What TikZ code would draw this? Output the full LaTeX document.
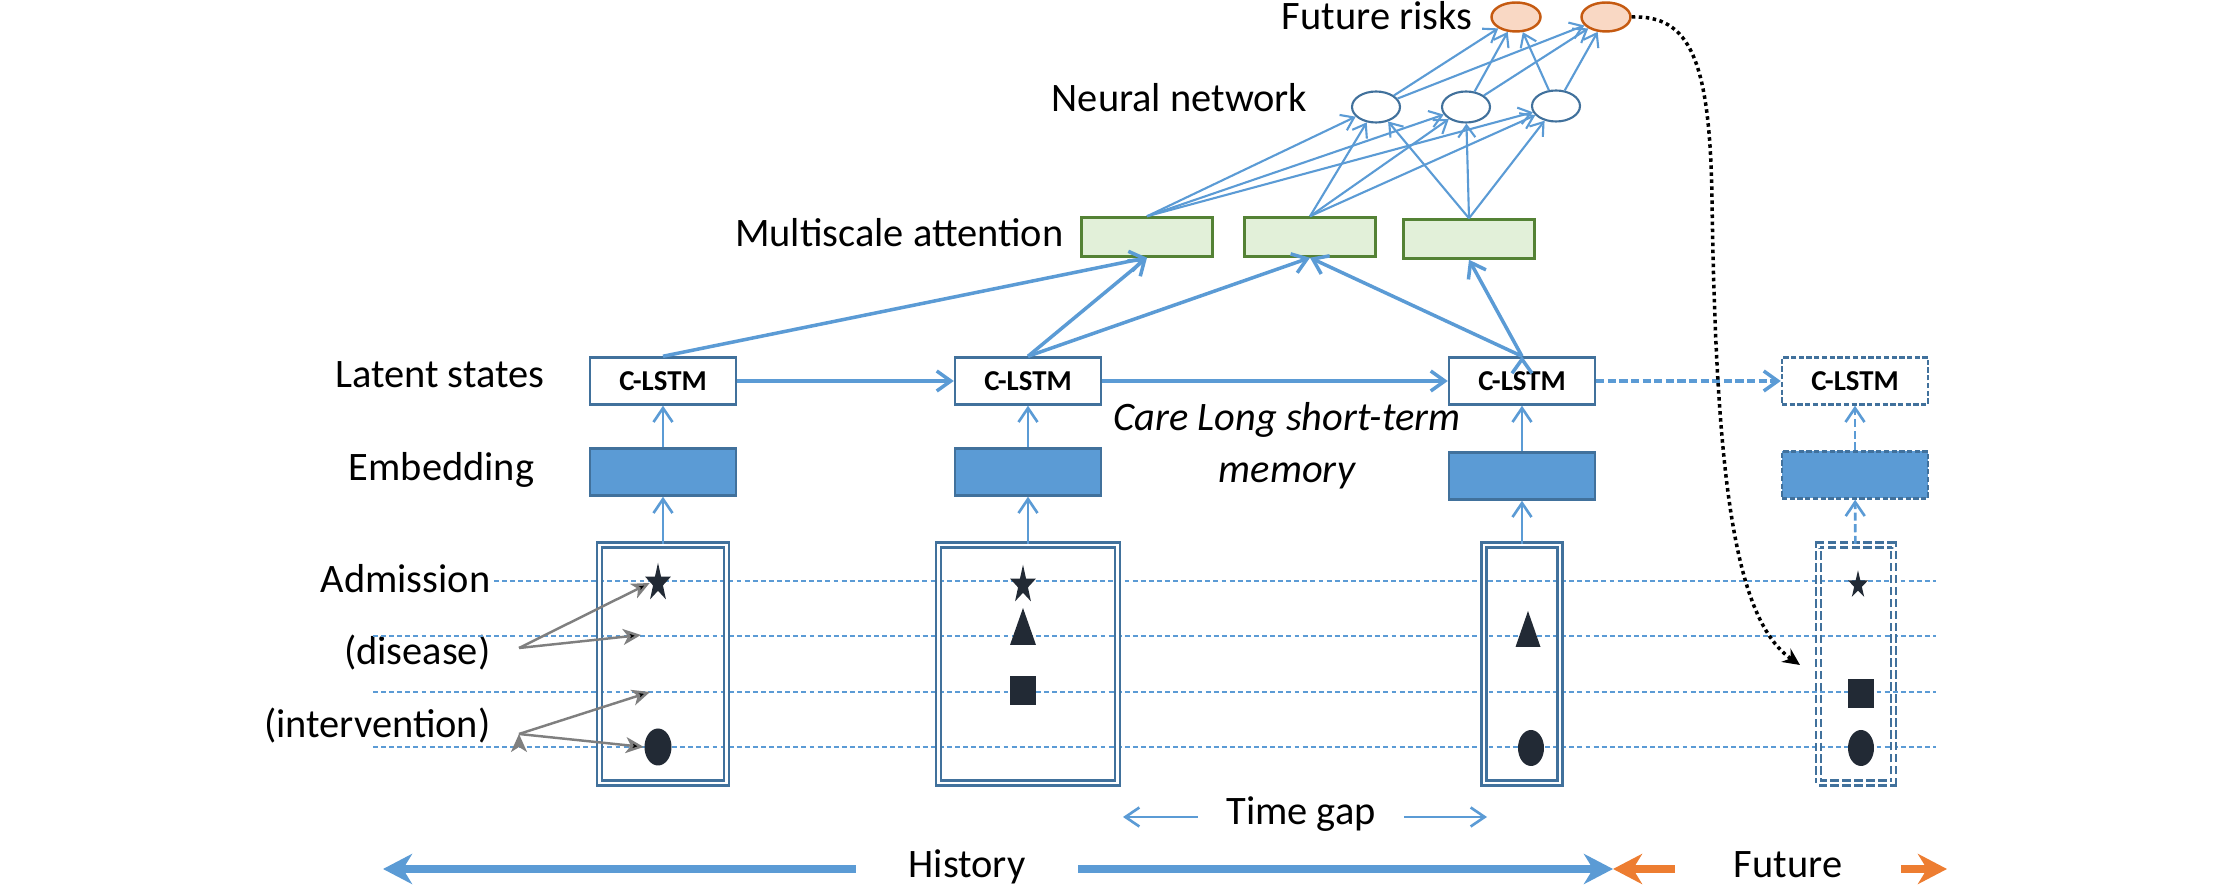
\documentclass[tikz,border=0pt]{standalone}
\usepackage{fontspec}
\setmainfont{Carlito}
\usetikzlibrary{arrows.meta,shapes.geometric}

\definecolor{lineblue}{HTML}{5B9BD5}
\definecolor{boxblue}{HTML}{41719C}
\definecolor{symcol}{HTML}{222A35}
\definecolor{attfill}{HTML}{E2F0D9}
\definecolor{attdraw}{HTML}{548235}
\definecolor{riskfill}{HTML}{F9D8C4}
\definecolor{riskdraw}{HTML}{C55A11}
\definecolor{futorange}{HTML}{ED7D31}
\definecolor{pointgray}{HTML}{7F7F7F}

\begin{document}
\begin{tikzpicture}[font=\fontsize{11.5}{14.8}\selectfont]

        % Setup the styles for the boxes and the links
        \tikzset{row label/.style={anchor=base east, inner sep=0pt},
                 lstm box/.style={draw=boxblue, fill=white, line width=0.7pt,
                                  minimum width=1.46cm, minimum height=0.47cm,
                                  inner sep=0pt, font=\bfseries\fontsize{8.2}{9}\selectfont},
                 embed box/.style={draw=boxblue, fill=lineblue, line width=0.7pt,
                                   minimum width=1.46cm, minimum height=0.47cm},
                 visit box/.style={draw=boxblue, double=white, double distance=0.8pt,
                                   line width=0.65pt, minimum height=2.38cm},
                 attn box/.style={draw=attdraw, fill=attfill, line width=0.7pt,
                                  minimum width=1.31cm, minimum height=0.39cm},
                 neuron/.style={ellipse, draw=boxblue, fill=white, line width=0.6pt,
                                minimum width=0.48cm, minimum height=0.31cm, inner sep=0pt},
                 risk/.style={ellipse, draw=riskdraw, fill=riskfill, line width=0.7pt,
                              minimum width=0.49cm, minimum height=0.29cm, inner sep=0pt},
                 code star/.style={star, star points=5, star point ratio=2.6,
                                   fill=symcol, inner sep=0pt, transform shape},
                 code dot/.style={ellipse, fill=symcol, inner sep=0pt,
                                  minimum width=0.26cm, minimum height=0.36cm},
                 code square/.style={fill=symcol, inner sep=0pt,
                                     minimum width=0.26cm, minimum height=0.29cm},
                 grid line/.style={draw=lineblue, line width=0.4pt,
                                   dash pattern=on 1.4pt off 0.9pt},
                 state link/.style={draw=lineblue, line width=1pt,
                                    -{Straight Barb[length=1.4mm,width=2mm]}},
                 up link/.style={draw=lineblue, line width=0.75pt,
                                 -{Straight Barb[length=1.4mm,width=1.9mm]}},
                 nn link/.style={draw=lineblue, line width=0.6pt,
                                 -{Straight Barb[length=1.2mm,width=1.7mm]}},
                 hint link/.style={draw=pointgray, line width=0.7pt,
                                   -{Stealth[length=1.8mm,width=1.6mm,inset=0.5mm]}},
                 span arrow/.style={line width=2pt,
                                    -{Stealth[length=2.9mm,width=3mm,inset=0.9mm]}},
                 dashed link/.style={dash pattern=on 2.3pt off 1pt},
                 future box/.style={dash pattern=on 1.5pt off 0.7pt},
                 future visit/.style={dash pattern=on 2.4pt off 1pt}}

        \useasboundingbox (0, 0) rectangle (22.13, 8.86);

        % Draw the row labels
        \node[row label] at (14.73, 8.56) (lrisk)  {Future risks};
        \node[row label] at (13.08, 7.74) (lnn)    {Neural network};
        \node[row label] at (10.64, 6.39) (latt)   {Multiscale attention};
        \node[row label] at (5.45, 4.98)  (lstate) {Latent states};
        \node[row label] at (5.35, 4.05)  (lemb)   {Embedding};
        \node[row label] at (4.91, 2.93)  (ladm)   {Admission};
        \node[row label] at (4.91, 2.21)  (ldis)   {(disease)};
        \node[row label] at (4.91, 1.48)  (lint)   {(intervention)};

        % Draw the dotted rows
        \draw[grid line] (4.94, 3.05) -- (19.36, 3.05);
        \foreach \y in {2.50, 1.94, 1.39}
            \draw[grid line] (3.73, \y) -- (19.36, \y);

        % Draw the visits
        \node[visit box, minimum width=1.27cm] at (6.63, 2.22)  (v1) {};
        \node[visit box, minimum width=1.79cm] at (10.28, 2.22) (v2) {};
        \node[visit box, minimum width=0.76cm] at (15.22, 2.22) (v3) {};
        \node[visit box, future visit, minimum width=0.75cm] at (18.56, 2.22) (v4) {};

        % Draw the codes inside the visits
        \begin{scope}[shift={(6.58, 3.03)}, yscale=1.5]
            \node[code star, minimum size=0.27cm] (s1) {};
        \end{scope}
        \begin{scope}[shift={(10.23, 3.01)}, yscale=1.5]
            \node[code star, minimum size=0.27cm] (s2) {};
        \end{scope}
        \begin{scope}[shift={(18.58, 3.01)}, yscale=1.4]
            \node[code star, minimum size=0.21cm] (s4) {};
        \end{scope}
        \fill[symcol] (10.10, 2.41) -- (10.36, 2.41) -- (10.23, 2.78) -- cycle;
        \fill[symcol] (15.155, 2.39) -- (15.405, 2.39) -- (15.28, 2.75) -- cycle;
        \node[code square] at (10.23, 1.955) (q2) {};
        \node[code square] at (18.61, 1.925) (q4) {};
        \node[code dot, minimum width=0.27cm, minimum height=0.37cm] at (6.58, 1.39) (d1) {};
        \node[code dot] at (15.31, 1.38) (d3) {};
        \node[code dot] at (18.61, 1.38) (d4) {};

        % Draw the embeddings, the states and the network
        \node[embed box] at (6.63, 4.14)  (e1) {};
        \node[embed box] at (10.28, 4.14) (e2) {};
        \node[embed box] at (15.22, 4.10) (e3) {};
        \node[embed box, future box] at (18.55, 4.11) (e4) {};

        \node[lstm box] at (6.63, 5.05)  (c1) {C-LSTM};
        \node[lstm box] at (10.28, 5.05) (c2) {C-LSTM};
        \node[lstm box] at (15.22, 5.05) (c3) {C-LSTM};
        \node[lstm box, future box] at (18.55, 5.05) (c4) {C-LSTM};

        \node[attn box] at (11.47, 6.49) (a1) {};
        \node[attn box] at (13.10, 6.49) (a2) {};
        \node[attn box] at (14.69, 6.47) (a3) {};

        \node[neuron] at (13.76, 7.79) (n1) {};
        \node[neuron] at (14.66, 7.79) (n2) {};
        \node[neuron] at (15.56, 7.80) (n3) {};

        \node[risk] at (15.16, 8.69) (r1) {};
        \node[risk] at (16.06, 8.69) (r2) {};

        \node[font=\itshape\fontsize{11.5}{14.8}\selectfont, align=center]
            at (12.87, 4.40) (care) {Care Long short-term\\memory};

        % Connect the states with arrows
        \draw[up link]
            (v1) edge (e1)
            (v2) edge (e2)
            (v3) edge (e3)
            (e1) edge (c1)
            (e2) edge (c2)
            (e3) edge (c3);
        \draw[up link, dashed link]
            (v4) edge (e4)
            (e4) edge (c4);

        \draw[state link]
            (c1) edge (c2)
            (c2) edge (c3)
            (c1.north) edge (a1.south)
            (c2.north) edge (a1.south)
            (c2.north) edge (a2.south)
            (c3.north) edge (a2.south)
            (c3.north) edge (a3.south);
        \draw[state link, dashed link] (c3) -- (c4);

        \foreach \a in {a1, a2, a3}
            \foreach \n in {n1, n2, n3}
                \draw[nn link] (\a.north) -- (\n);
        \foreach \n in {n1, n2, n3}
            \foreach \r in {r1, r2}
                \draw[nn link] (\n) -- (\r);

        % Prediction goes back into the next visit
        \coordinate (next) at (18.00, 2.21);
        \draw[black, line width=1pt, densely dotted,
              -{Stealth[length=1.7mm,width=1.6mm]}]
            (r2.east) .. controls (16.90, 8.71) and (17.10, 8.26) .. (17.12, 6.86)
                      .. controls (17.16, 4.06) and (17.35, 2.66) .. (next);

        % Point the code types
        \coordinate (pd) at (5.19, 2.38);
        \coordinate (pi) at (5.19, 1.52);
        \coordinate (td) at (6.41, 2.51);
        \coordinate (ti) at (6.50, 1.94);
        \draw[hint link]
            (pd) edge (s1.west)
            (pd) edge (td)
            (pi) edge (ti)
            (pi) edge (d1.west);

        % Time axis
        \node[anchor=base, inner xsep=0.28cm] at (13.01, 0.61) (gap) {Time gap};
        \coordinate (gapl) at (11.23, 0.69);
        \coordinate (gapr) at (14.87, 0.69);
        \draw[up link] (gap.west |- gapl) -- (gapl);
        \draw[up link] (gap.east |- gapr) -- (gapr);

        \node[anchor=base, inner xsep=0.52cm] at (9.67, 0.08)  (hist) {History};
        \node[anchor=base, inner xsep=0.58cm] at (17.88, 0.08) (fut)  {Future};
        \coordinate (past)  at (3.83, 0.17);
        \coordinate (now)   at (16.13, 0.17);
        \coordinate (later) at (19.47, 0.17);
        \draw[span arrow, lineblue] (hist.west |- past) -- (past);
        \draw[span arrow, lineblue] (hist.east |- now) -- (now);
        \draw[span arrow, futorange] (fut.west |- now) -- (now);
        \draw[span arrow, futorange] (fut.east |- later) -- (later);
\end{tikzpicture}
\end{document}
